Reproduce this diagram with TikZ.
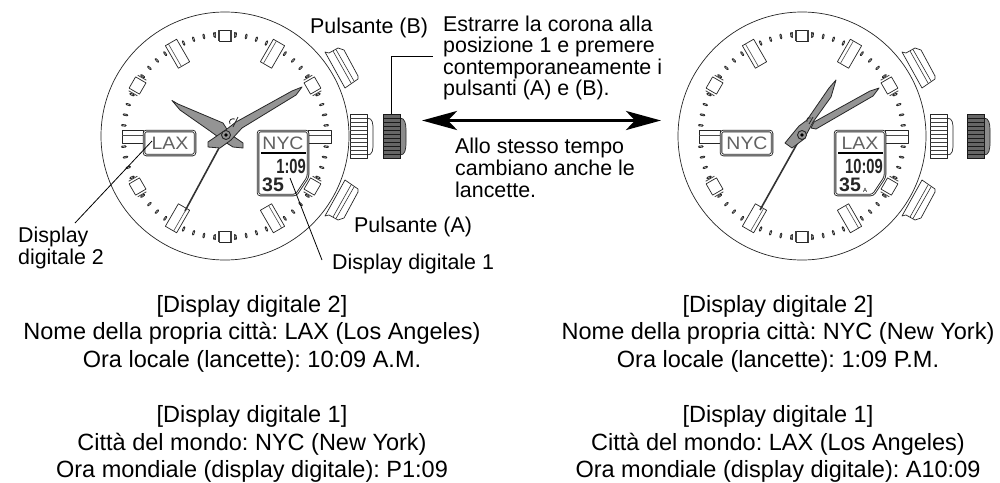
\documentclass[tikz,border=0pt]{standalone}
\usepackage{fontspec}
\setmainfont{Liberation Sans}
\usetikzlibrary{arrows.meta}
\frenchspacing
\tikzset{
  txt/.style={inner sep=0pt,font=\fontsize{21.4}{25}\selectfont,anchor=base west},
  ctxt/.style={inner sep=0pt,font=\fontsize{23.5}{27}\selectfont,anchor=base},
  leader/.style={line width=0.8pt,black},
  hand/.style={fill=black!42,draw=black!85,line width=0.8pt,line join=round},
  lcdbox/.style={fill=white,draw=black!85,line width=0.9pt,double=white,double distance=0.7pt,rounded corners=2.5pt},
  lcdname/.style={inner sep=0pt,font=\fontsize{18}{18}\selectfont,text=black!62,xscale=1.08},
  lcdnum/.style={inner sep=0pt,font=\bfseries\fontsize{20.5}{21}\selectfont,text=black!85,xscale=0.72},
  lcdsec/.style={inner sep=0pt,font=\bfseries\fontsize{19.5}{19}\selectfont,text=black!85,anchor=base west},
  part/.style={fill=white,draw=black!85,line width=0.7pt,line join=round},
}
\newcommand{\watchbody}[3]{% #1 centre x, #2 crown offset, #3 dark crown offset
  \draw[line width=0.7pt,black!85] (#1,136) circle[radius=124];
  \foreach \m in {1,...,59}{
    \pgfmathtruncatemacro{\rest}{mod(\m,5)}
    \ifnum\rest=0\else
    \begin{scope}[shift={(#1,136)},rotate=-\m*6]
      \draw[line width=2.2pt,black!85,line cap=round] (0,-103.5) -- (0,-100);
      \draw[line width=0.5pt,black!25,line cap=round] (0,-102.8) -- (0,-100.7);
    \end{scope}
    \fi
  }
  \foreach \a in {30,150,210,330}{
    \begin{scope}[shift={(#1,136)},rotate=-\a]
      \draw[part] (-6.5,-108) rectangle (6.5,-82);
      \draw[line width=0.6pt,black!70] (-3,-108) -- (-3,-82);
    \end{scope}
  }
  \foreach \a in {60,120,240,300}{
    \begin{scope}[shift={(#1,136)},rotate=-\a]
      \draw[part] (-6.5,-107) rectangle (6.5,-95);
      \draw[line width=0.8pt,black!75] (-9,-106) -- (-9,-96) (9,-106) -- (9,-96);
    \end{scope}
  }
  \foreach \a in {0,180}{
    \begin{scope}[shift={(#1,136)},rotate=-\a]
      \draw[part] (-6,-106) rectangle (6,-95);
      \draw[line width=1.1pt,black!75] (-6,-106) -- (-6,-95) (6,-106) -- (6,-95);
      \draw[line width=1.3pt,black!75] (-9.5,-104) -- (-9.5,-98) (9.5,-104) -- (9.5,-98);
    \end{scope}
  }
  \begin{scope}[shift={(#1,0)}]
    \draw[part] (-103,130) rectangle (-82,143);
    \draw[line width=0.6pt,black!70] (-103,135) -- (-82,135);
    \draw[part] (83,130) rectangle (106,143);
    \draw[line width=0.6pt,black!70] (83,135) -- (106,135);
    \draw[lcdbox] (-81,131) rectangle (-30,155);
    \draw[lcdbox] (33,131) -- (83,131) -- (83,177) -- (71,195) -- (33,195) -- cycle;
    \draw[line width=1.5pt,black] (36,153) -- (81,153);
    % pushers
    \draw[part] (100,52) -- (104,53) -- (113,48) -- (119,50) -- (133,76) -- (133,79) -- (120,88) -- cycle;
    \draw[line width=0.6pt,black!80] (108,51) -- (126,83) (111,49.5) -- (129,81);
    \draw[part] (100,216) -- (104,215) -- (113,220) -- (119,218) -- (133,192) -- (133,189) -- (120,180) -- cycle;
    \draw[line width=0.6pt,black!80] (108,217) -- (126,185) (111,218.5) -- (129,187);
  \end{scope}
  \begin{scope}[shift={(#1+#2,0)}]
    \draw[part] (142,118) .. controls (148,118) and (148,124) .. (148,130) -- (148,142) .. controls (148,150) and (148,155) .. (142,155) -- cycle;
    \draw[part] (125,114) -- (142,114) -- (142,158) -- (125,158) -- cycle;
    \foreach \yy in {118,122,...,154} \draw[line width=0.6pt,black!75] (125,\yy) -- (142,\yy);
  \end{scope}
  \begin{scope}[shift={(#1+#3,0)}]
    \draw[fill=black!45,draw=black!85,line width=0.7pt] (175,118) .. controls (180,118) and (181,124) .. (181,130) -- (181,142) .. controls (181,150) and (180,155) .. (175,155) -- cycle;
    \draw[fill=black!60,draw=black!90,line width=0.7pt] (158,114) rectangle (175,158);
    \foreach \yy in {118,122,...,154} \draw[line width=0.6pt,black!90] (158,\yy) -- (175,\yy);
  \end{scope}
}
\begin{document}
\begin{tikzpicture}[x=1pt,y=-1pt]
\useasboundingbox (0,0) rectangle (1000,482);
\fill[white] (0,0) rectangle (1000,482);
\watchbody{225}{0}{0}
\watchbody{802}{3}{7}

% left LCD text
\node[lcdname] (lax1) at (170,143.5) {LAX};
\node[lcdname] (nyc1) at (283,143.5) {NYC};
\node[lcdnum,anchor=base east] (t1) at (306,173) {1:09};
\node[lcdsec] (s1) at (262,191) {35};
% right LCD text
\node[lcdname] (nyc2) at (747,143.5) {NYC};
\node[lcdname] (lax2) at (860,143.5) {LAX};
\node[lcdnum,anchor=base east] (t2) at (883,173) {10:09};
\node[lcdsec] (s2) at (839,191) {35};
\node[inner sep=0pt,font=\fontsize{6}{6}\selectfont] (a2) at (865,190) {A};

% left hands
\draw[line width=1.6pt,black!80] (226,135) -- (185,211);
\draw[hand] (172,100.5) -- (178,104) -- (223,123) -- (230,134) -- (243,143) -- (243,148) -- (233,147) -- (225,142) -- (210,131) -- (180,110) -- cycle;
\draw[hand] (302,87) -- (292,91) -- (236,122) -- (227,129) -- (208,142) -- (208,147) -- (220,148) -- (231,140) -- (242,128) -- (296,95) -- cycle;
\draw[line width=0.8pt,black!85] (230,124) .. controls (228,120) and (232,118) .. (235,119);
\draw[line width=0.8pt,black!85] (233,127) -- (238,117);
\draw[fill=black!42,draw=black!85,line width=0.9pt] (226,135) circle[radius=4.5];
\fill[black] (226,135) circle[radius=1.8];

% right hands
\draw[line width=1.6pt,black!80] (802,135) -- (760,210);
\draw[hand] (836,80) -- (829,88) -- (807,120) -- (799,126) -- (785,143) -- (792,148) -- (804,139) -- (813,122) -- (831,97) -- cycle;
\draw[hand] (879,88) -- (870,91) -- (814,122) -- (811,128) -- (816,129) -- (873,96) -- cycle;
\draw[line width=0.8pt,black!85] (807,122) .. controls (806,118) and (809,117) .. (811,118);
\draw[line width=0.8pt,black!85] (809,124) -- (813,117);
\draw[fill=black!42,draw=black!85,line width=0.9pt] (802,135) circle[radius=4.5];
\fill[black] (802,135) circle[radius=1.8];

% labels
\node[txt] (pb) at (310,33) {Pulsante (B)};
\node[txt] (e1) at (443,31) {Estrarre la corona alla};
\node[txt] (e2) at (443,52.5) {posizione 1 e premere};
\node[txt] (e3) at (443,74) {contemporaneamente i};
\node[txt] (e4) at (443,95.5) {pulsanti (A) e (B).};
\node[txt] (a1) at (455,153) {Allo stesso tempo};
\node[txt] (a2b) at (455,175) {cambiano anche le};
\node[txt] (a3) at (455,197) {lancette.};
\node[txt] (pa) at (354,232) {Pulsante (A)};
\node[txt] (d1) at (332,269) {Display digitale 1};
\node[txt] (d2a) at (18,242) {Display};
\node[txt] (d2b) at (18,264) {digitale 2};

\node[ctxt] (l1) at (252,312) {[Display digitale 2]};
\node[ctxt] (l2) at (252,339.5) {Nome della propria città: LAX (Los Angeles)};
\node[ctxt] (l3) at (252,367) {Ora locale (lancette): 10:09 A.M.};
\node[ctxt] (l4) at (252,422) {[Display digitale 1]};
\node[ctxt] (l5) at (252,450) {Città del mondo: NYC (New York)};
\node[ctxt] (l6) at (252,477.5) {Ora mondiale (display digitale): P1:09};
\node[ctxt] (r1) at (778,312) {[Display digitale 2]};
\node[ctxt] (r2) at (778,339.5) {Nome della propria città: NYC (New York)};
\node[ctxt] (r3) at (778,367) {Ora locale (lancette): 1:09 P.M.};
\node[ctxt] (r4) at (778,422) {[Display digitale 1]};
\node[ctxt] (r5) at (778,450) {Città del mondo: LAX (Los Angeles)};
\node[ctxt] (r6) at (778,477.5) {Ora mondiale (display digitale): A10:09};

% connectors
\coordinate (crownTop) at (391,114);
\coordinate (lbEnd) at (433,56);
\coordinate (d2s) at (75,223);
\coordinate (d2e) at (152,141);
\coordinate (d1s) at (322,260);
\coordinate (d1e) at (290,178);
\coordinate (arL) at (422,120.5);
\coordinate (arR) at (661,120.5);
\draw[leader] (crownTop) |- (lbEnd);
\draw[leader] (d2s) -- (d2e);
\draw[leader] (d1s) -- (d1e);
\draw[line width=3.6pt,{Stealth[length=35pt,width=19pt,inset=9pt]}-{Stealth[length=35pt,width=19pt,inset=9pt]}] (arL) -- (arR);
\end{tikzpicture}
\end{document}
